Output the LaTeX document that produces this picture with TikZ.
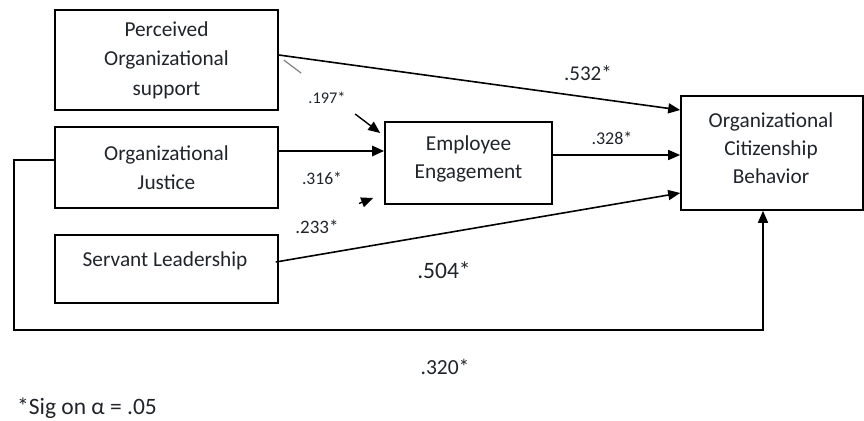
\documentclass[tikz,border=0pt]{standalone}
\usepackage{fontspec}
\setmainfont{Carlito}
\usetikzlibrary{calc,arrows.meta}
\definecolor{txt}{HTML}{20252C}
\begin{document}
\begin{tikzpicture}[x=1pt,y=-1pt,
  box/.style={draw=black,line width=1.6pt,rectangle,align=center,text=txt,
    font=\fontsize{21.3}{29.5}\selectfont,inner sep=0pt},
  boxtext/.style={text=txt,font=\fontsize{21.3}{28}\selectfont,inner sep=0pt,align=center},
  conn/.style={draw=black,line width=1.6pt,-{Triangle[length=12pt,width=10pt]}},
  lab/.style={text=txt,inner sep=0pt}]
\useasboundingbox[fill=white] (0,0) rectangle (864,420);
\node[box,minimum width=223pt,minimum height=100pt] (pos) at (166.5,60) {Perceived\\Organizational\\support};
\node[box,minimum width=223pt,minimum height=81pt] (oj) at (166.5,167.5) {Organizational\\Justice};
\node[box,minimum width=223pt,minimum height=68pt] (sl) at (166.5,269) {};
\node[boxtext] (sltxt) at (165,261) {Servant Leadership};
\node[box,minimum width=167pt,minimum height=82pt] (ee) at (468.5,163) {};
\node[boxtext] (eetxt) at (468.5,159) {Employee\\Engagement};
\node[box,minimum width=182pt,minimum height=114pt] (ocb) at (772,153) {};
\node[boxtext] (ocbtxt) at (771,148) {Organizational\\Citizenship\\Behavior};
% POS -> OCB
\draw[conn] ([yshift=5pt]pos.east) -- ([yshift=43pt]ocb.west);
% POS -> EE (broken)
\coordinate (p1) at ([xshift=5pt]pos.east);
\coordinate (p2) at ([xshift=-4pt,yshift=30pt]ee.west);
\draw[gray,line width=1.2pt] (p1) -- ($(p1)!0.18!(p2)$);
\draw[conn,line width=1.4pt] ($(p1)!0.74!(p2)$) -- (p2);
% OJ -> EE
\draw[conn,line width=2.6pt] ([yshift=16.5pt]oj.east) -- ([yshift=16.5pt]oj.east -| ee.west);
% SL -> EE (broken, only tip)
\coordinate (q1) at (sl.north east);
\coordinate (q2) at ([xshift=-11pt,yshift=-35pt]ee.west);
\draw[conn,line width=1.4pt] ($(q1)!0.85!(q2)$) -- (q2);
% SL -> OCB
\draw[conn] ([xshift=-3pt,yshift=7pt]sl.east) -- ([yshift=-40pt]ocb.west);
% EE -> OCB
\draw[conn] ([yshift=8pt]ee.east) -- ([yshift=8pt]ee.east -| ocb.west);
% OJ loop -> OCB
\coordinate (c1) at (14,160);
\coordinate (c2) at (14,330);
\draw[conn] (oj.west |- c1) -- (c1) -- (c2) -| ([xshift=-9pt]ocb.south);
% labels
\node[lab,font=\fontsize{21}{24}\selectfont] (l532) at (588,73) {.532*};
\node[lab,font=\fontsize{16.3}{19}\selectfont] (l197) at (327,98) {.197*};
\node[lab,font=\fontsize{17.6}{20}\selectfont] (l316) at (322,178) {.316*};
\node[lab,font=\fontsize{19}{22}\selectfont] (l233) at (317,227) {.233*};
\node[lab,font=\fontsize{23.5}{26}\selectfont] (l504) at (444,270) {.504*};
\node[lab,font=\fontsize{18}{21}\selectfont] (l328) at (612,138) {.328*};
\node[lab,font=\fontsize{21.5}{24}\selectfont] (l320) at (445,367) {.320*};
\node[lab,font=\fontsize{23.5}{26}\selectfont,anchor=west] (foot) at (17,408) {*Sig on α = .05};
\end{tikzpicture}
\end{document}
